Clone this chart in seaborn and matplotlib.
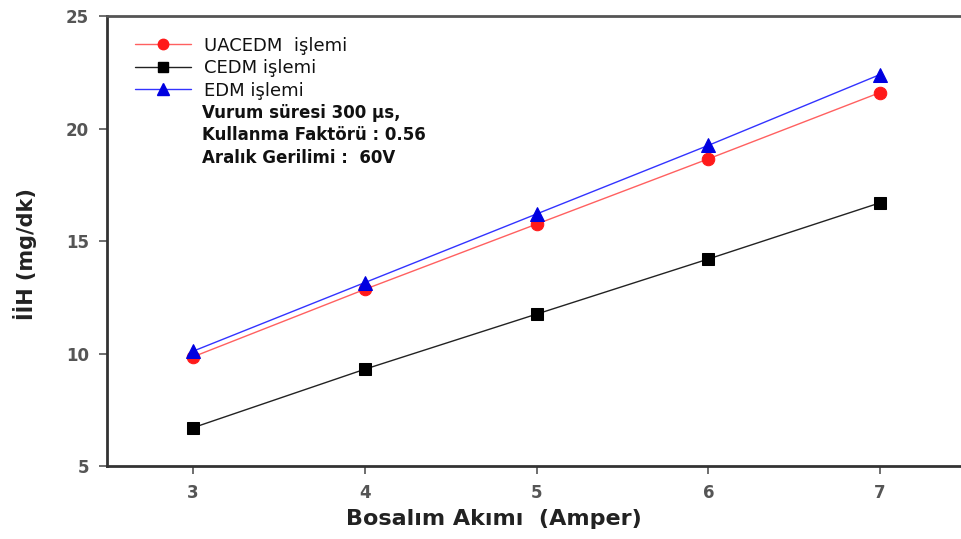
import matplotlib
matplotlib.use("Agg")
import matplotlib.pyplot as plt
import seaborn as sns
import pandas as pd
from matplotlib.lines import Line2D

current = [3, 4, 5, 6, 7]
uacedm = [9.85, 12.85, 15.75, 18.65, 21.6]
cedm = [6.7, 9.3, 11.75, 14.2, 16.7]
edm = [10.1, 13.15, 16.2, 19.25, 22.4]
series_names = ["UACEDM  işlemi", "CEDM işlemi", "EDM işlemi"]
info_lines = ["Vurum süresi 300 µs,", "Kullanma Faktörü : 0.56", "Aralık Gerilimi :  60V"]
yticks = [5, 10, 15, 20, 25]

sns.set_theme(style="white")
plt.rcParams['font.family'] = ['DejaVu Sans']

fig = plt.figure(figsize=(9.62, 5.39), dpi=100)
ax = fig.add_axes([0.1112, 0.1354, 0.893, 0.8349])

df = pd.DataFrame({"x": current * 3,
                   "y": uacedm + cedm + edm,
                   "s": [series_names[0]] * 5 + [series_names[1]] * 5 + [series_names[2]] * 5})

styles = [("#ff1a1a", "o", 9, "#ff6060"), ("black", "s", 8.5, "#222222"), ("#0000e0", "^", 10, "#3333ff")]
handles = []
for name, (mc, mk, ms, lc) in zip(series_names, styles):
    sub = df[df["s"] == name]
    sns.lineplot(data=sub, x="x", y="y", ax=ax, color=lc, linewidth=1.0,
                 marker=mk, markersize=ms, markerfacecolor=mc, markeredgecolor=mc,
                 legend=False)
    handles.append(Line2D([0], [0], color=lc, linewidth=1.0, marker=mk,
                          markersize=ms - 1.5, markerfacecolor=mc, markeredgecolor=mc))

ax.set_xlim(2.5, 7.5)
ax.set_ylim(5, 25)
ax.set_xticks(current)
ax.set_yticks(yticks)

for side in ["left", "bottom"]:
    ax.spines[side].set_color("#333333")
    ax.spines[side].set_linewidth(2.0)
ax.spines["top"].set_color("#555555")
ax.spines["top"].set_linewidth(2.0)
ax.spines["right"].set_visible(False)

ax.tick_params(axis="both", direction="out", length=6, width=1.2, color="#555555",
               labelcolor="#555555", labelsize=12, left=True, bottom=True, pad=7)
for lab in ax.get_xticklabels() + ax.get_yticklabels():
    lab.set_fontweight("bold")

ax.set_xlabel("Bosalım Akımı  (Amper)", fontsize=16, fontweight="bold", color="#222222",
              va="top")
ax.xaxis.set_label_coords(0.45, -0.095)
ax.set_ylabel("İİH (mg/dk)", fontsize=15, fontweight="bold", color="#222222")
ax.yaxis.set_label_coords(-0.082, 0.47)

leg = ax.legend(handles, series_names, loc="upper left", bbox_to_anchor=(0.02, 0.978),
                frameon=False, fontsize=13, handlelength=3.1, handletextpad=0.7,
                labelspacing=0.25, borderaxespad=0.2)
for t in leg.get_texts():
    t.set_color("#111111")

for i, line in enumerate(info_lines):
    ax.text(0.111, 0.785 - i * 0.05, line, transform=ax.transAxes, fontsize=12,
            fontweight="bold", color="#111111", va="center", ha="left")

fig.savefig("out.png", dpi=100)
